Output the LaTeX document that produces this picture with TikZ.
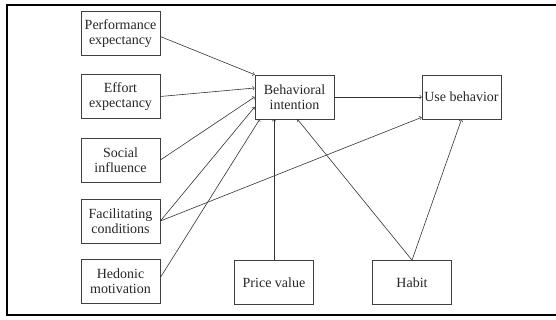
\documentclass[tikz,border=0pt]{standalone}
\usepackage{fontspec}
\setmainfont{Liberation Serif}
\begin{document}
\begin{tikzpicture}[x=1pt,y=-1pt,
        every node/.style={draw=black!75,line width=0.7pt,align=center,
            minimum width=79pt,minimum height=44pt,inner sep=1pt,
            text=black!85,font=\fontsize{14}{15}\selectfont},
        link/.style={->,draw=black!80,line width=0.6pt}]
    \useasboundingbox (0,0) rectangle (556,320);
    \draw[line width=2pt] (7,5) rectangle (560,315);

    \node (pe) at (120.5,33.5) {Performance\\expectancy};
    \node (ee) at (120.5,96.5) {Effort\\expectancy};
    \node (si) at (120.5,160) {Social\\influence};
    \node (fc) at (120.5,221) {Facilitating\\conditions};
    \node (hm) at (120.5,281.5) {Hedonic\\motivation};

    \node (bi) at (294.5,97) {Behavioral\\intention};
    \node (ub) at (461.5,97) {Use behavior};

    \node (pv) at (274,282.5) {Price value};
    \node (hb) at (412,282.5) {Habit};

    \draw[link] ([yshift=-3pt]pe.east) -- (bi.north west);
    \draw[link] (ee.east) -- ([yshift=9pt]bi.west);
    \draw[link] (si.east) -- (bi.west);
    \draw[link] (fc.east) -- ([yshift=-10pt]bi.west);
    \draw[link] (fc.east) -- ([yshift=2pt]ub.south west);
    \draw[link] ([yshift=4pt]hm.east) -- ([xshift=5pt]bi.south west);
    \draw[link] (pv.north) -- (pv.north |- bi.south);
    \draw[link] (hb.north) -- ([xshift=3pt]bi.south);
    \draw[link] (hb.north) -- (ub.south);
    \draw[link] (bi.east) -- (ub.west);
\end{tikzpicture}
\end{document}
